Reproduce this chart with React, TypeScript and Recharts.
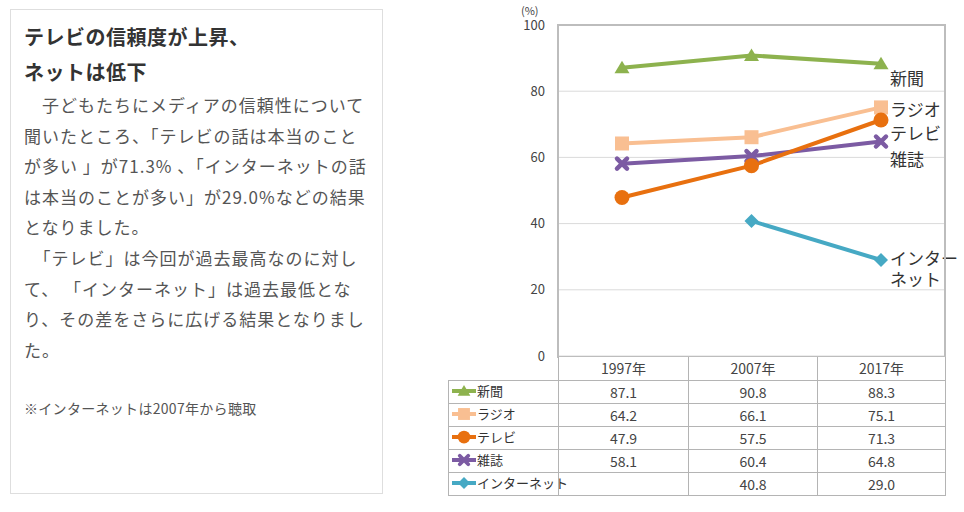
import React from 'react';
import { LineChart, Line, XAxis, YAxis, CartesianGrid } from 'recharts';

const years = ['1997年', '2007年', '2017年'];
const shimbun = [87.1, 90.8, 88.3];
const radio = [64.2, 66.1, 75.1];
const tv = [47.9, 57.5, 71.3];
const magazine = [58.1, 60.4, 64.8];
const internet: (number | null)[] = [null, 40.8, 29.0];
const yTicks = [0, 20, 40, 60, 80, 100];

const titleLines = ['テレビの信頼度が上昇、', 'ネットは低下'];
const bodyLines = [
  '　子どもたちにメディアの信頼性について',
  '聞いたところ、「テレビの話は本当のこと',
  'が多い 」が71.3% 、「インターネットの話',
  'は本当のことが多い」が29.0%などの結果',
  'となりました。',
  '　「テレビ」は今回が過去最高なのに対し',
  'て、 「インターネット」は過去最低とな',
  'り、その差をさらに広げる結果となりまし',
  'た。',
];
const note = '※インターネットは2007年から聴取';

type Shape = 'triangle' | 'square' | 'circle' | 'x' | 'diamond';

const series: {
  key: string;
  name: string;
  values: (number | null)[];
  color: string;
  shape: Shape;
  label: string[];
  labelDy: number[];
}[] = [
  { key: 'shimbun', name: '新聞', values: shimbun, color: '#8db24e', shape: 'triangle', label: ['新聞'], labelDy: [13] },
  { key: 'radio', name: 'ラジオ', values: radio, color: '#f9bf92', shape: 'square', label: ['ラジオ'], labelDy: [1] },
  { key: 'magazine', name: '雑誌', values: magazine, color: '#7c5ba3', shape: 'x', label: ['雑誌'], labelDy: [16] },
  { key: 'tv', name: 'テレビ', values: tv, color: '#e8700f', shape: 'circle', label: ['テレビ'], labelDy: [12] },
  { key: 'internet', name: 'インターネット', values: internet, color: '#46a9c4', shape: 'diamond', label: ['インター', 'ネット'], labelDy: [-3, 18] },
];

const tableOrder = ['shimbun', 'radio', 'tv', 'magazine', 'internet'];

const data = years.map((year, i) => {
  const row: Record<string, string | number | null> = { year };
  series.forEach((s) => {
    row[s.key] = s.values[i];
  });
  return row;
});

const FONT = "'Noto Sans CJK JP', 'Noto Sans', sans-serif";

function Marker({ shape, cx, cy, color, s = 1 }: { shape: Shape; cx: number; cy: number; color: string; s?: number }) {
  switch (shape) {
    case 'triangle':
      return (
        <polygon
          points={`${cx},${cy - 7 * s} ${cx + 7.5 * s},${cy + 5.5 * s} ${cx - 7.5 * s},${cy + 5.5 * s}`}
          fill={color}
        />
      );
    case 'square':
      return <rect x={cx - 7 * s} y={cy - 7 * s} width={14 * s} height={14 * s} fill={color} />;
    case 'circle':
      return <circle cx={cx} cy={cy} r={7.5 * s} fill={color} />;
    case 'x':
      return (
        <path
          d={`M${cx - 5 * s},${cy - 5 * s}L${cx + 5 * s},${cy + 5 * s}M${cx + 5 * s},${cy - 5 * s}L${cx - 5 * s},${cy + 5 * s}`}
          stroke={color}
          strokeWidth={4.5 * s}
          strokeLinecap="round"
        />
      );
    case 'diamond':
    default:
      return (
        <polygon
          points={`${cx},${cy - 7 * s} ${cx + 7 * s},${cy} ${cx},${cy + 7 * s} ${cx - 7 * s},${cy}`}
          fill={color}
        />
      );
  }
}

const cellBorder = '1px solid #b4b4b4';

export default function App() {
  return (
    <div style={{ position: 'absolute', left: 0, top: 0, width: 964, height: 512, background: '#fff', fontFamily: FONT }}>
      {/* text panel */}
      <div
        style={{
          position: 'absolute',
          left: 10,
          top: 9,
          width: 373,
          height: 485,
          border: '1.5px solid #dedede',
          boxSizing: 'border-box',
        }}
      >
        <div
          style={{
            position: 'absolute',
            left: 13,
            top: 9,
            fontSize: 20,
            fontWeight: 700,
            letterSpacing: 0.5,
            lineHeight: '35px',
            color: '#333',
            whiteSpace: 'pre',
          }}
        >
          {titleLines.map((t) => (
            <div key={t}>{t}</div>
          ))}
        </div>
        <div
          style={{
            position: 'absolute',
            left: 13,
            top: 80,
            fontSize: 17,
            letterSpacing: 1,
            lineHeight: '30.6px',
            color: '#555',
            whiteSpace: 'pre',
          }}
        >
          {bodyLines.map((t, i) => (
            <div key={i}>{t}</div>
          ))}
        </div>
        <div style={{ position: 'absolute', left: 13, top: 388, fontSize: 14, letterSpacing: 0.3, color: '#555', whiteSpace: 'pre' }}>
          {note}
        </div>
      </div>

      {/* chart */}
      <div style={{ position: 'absolute', left: 521, top: 4, fontSize: 11, lineHeight: '12px', color: '#444' }}>(%)</div>
      <div style={{ position: 'absolute', left: 0, top: 0 }}>
        <LineChart width={964} height={368} data={data} margin={{ top: 25, right: 19, left: 508, bottom: 12 }}>
          <CartesianGrid vertical={false} stroke="#dadada" strokeWidth={1} />
          <XAxis dataKey="year" hide height={0} padding={{ left: 64, right: 64 }} />
          <YAxis
            domain={[0, 100]}
            ticks={yTicks}
            width={50}
            axisLine={false}
            tickLine={false}
            tickSize={0}
            tickMargin={13}
            tick={{ fill: '#444', fontSize: 13, fontFamily: FONT }}
            interval={0}
          />
          {series.map((s) => (
            <Line
              key={s.key}
              dataKey={s.key}
              name={s.name}
              stroke={s.color}
              strokeWidth={4}
              type="linear"
              isAnimationActive={false}
              connectNulls={false}
              dot={(p: any) =>
                p.cx == null || p.cy == null || p.value == null ? (
                  <g key={`${s.key}-d${p.index}`} />
                ) : (
                  <g key={`${s.key}-d${p.index}`}>
                    <Marker shape={s.shape} cx={p.cx} cy={p.cy} color={s.color} />
                  </g>
                )
              }
              activeDot={false}
              label={(p: any) =>
                p.index !== years.length - 1 ? (
                  <g key={`${s.key}-l${p.index}`} />
                ) : (
                  <text
                    key={`${s.key}-l${p.index}`}
                    fontSize={17}
                    fill="#333"
                    fontFamily={FONT}
                    dominantBaseline="central"
                  >
                    {s.label.map((line, j) => (
                      <tspan key={j} x={p.x + 9} y={p.y + s.labelDy[j]}>
                        {line}
                      </tspan>
                    ))}
                  </text>
                )
              }
            />
          ))}
        </LineChart>
      </div>
      <div
        style={{
          position: 'absolute',
          left: 557,
          top: 24,
          width: 389,
          height: 334,
          border: '2.5px solid #bdbdbd',
          boxSizing: 'border-box',
          pointerEvents: 'none',
        }}
      />

      {/* data table */}
      <table
        style={{
          position: 'absolute',
          left: 448,
          top: 357,
          borderCollapse: 'collapse',
          tableLayout: 'fixed',
          width: 497,
          fontFamily: FONT,
          color: '#444',
          background: 'transparent',
        }}
      >
        <colgroup>
          <col style={{ width: 110 }} />
          <col style={{ width: 130 }} />
          <col style={{ width: 129 }} />
          <col style={{ width: 128 }} />
        </colgroup>
        <tbody>
          <tr style={{ height: 23 }}>
            <td style={{ padding: 0 }} />
            {years.map((y) => (
              <td
                key={y}
                style={{
                  padding: 0,
                  borderLeft: cellBorder,
                  borderRight: cellBorder,
                  borderBottom: cellBorder,
                  textAlign: 'center',
                  fontSize: 14,
                  background: '#fff',
                }}
              >
                {y}
              </td>
            ))}
          </tr>
          {tableOrder.map((k) => {
            const s = series.find((x) => x.key === k)!;
            return (
              <tr key={k} style={{ height: 23 }}>
                <td style={{ padding: 0, border: cellBorder, fontSize: 13, color: '#333', whiteSpace: 'nowrap' }}>
                  <span style={{ display: 'inline-flex', alignItems: 'center' }}>
                    <svg width={26} height={14} style={{ marginLeft: 2 }}>
                      <line x1={1} y1={7} x2={25} y2={7} stroke={s.color} strokeWidth={4} />
                      <Marker shape={s.shape} cx={13} cy={7} color={s.color} s={0.85} />
                    </svg>
                    <span>{s.name}</span>
                  </span>
                </td>
                {s.values.map((v, i) => (
                  <td key={i} style={{ padding: 0, border: cellBorder, textAlign: 'center', fontSize: 14 }}>
                    {v == null ? '' : v.toFixed(1)}
                  </td>
                ))}
              </tr>
            );
          })}
        </tbody>
      </table>
    </div>
  );
}
